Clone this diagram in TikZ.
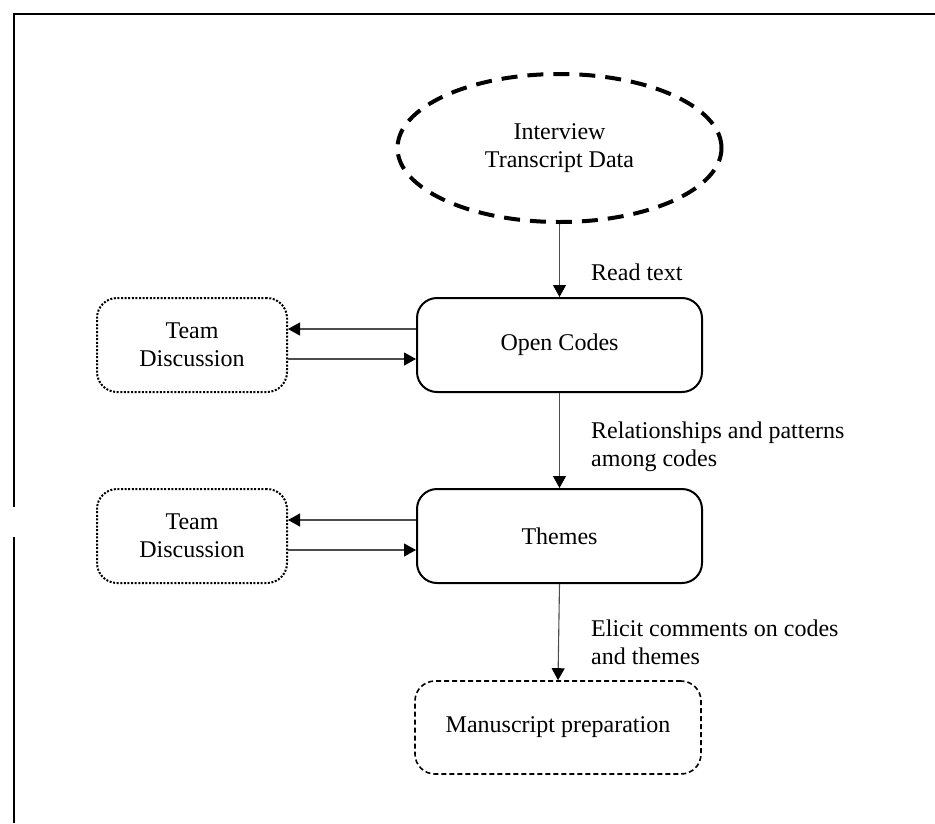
\documentclass[tikz,border=0pt]{standalone}
\usepackage{fontspec}
\setmainfont{Liberation Serif}
\usetikzlibrary{shapes.geometric,arrows.meta}
\begin{document}
\begin{tikzpicture}[x=1pt,y=-1pt,
  every node/.style={font=\fontsize{24}{27.6}\selectfont, align=center, inner sep=0pt},
  mainbox/.style={draw, line width=2pt, rounded corners=20pt, minimum width=285pt, minimum height=94pt},
  teambox/.style={draw, line width=2pt, dash pattern=on 2pt off 1.6pt, rounded corners=20pt, minimum width=190pt, minimum height=94pt},
  msbox/.style={draw, line width=1.6pt, dash pattern=on 5pt off 3pt, rounded corners=20pt, minimum width=286pt, minimum height=93pt},
  databubble/.style={draw, ellipse, line width=4pt, dash pattern=on 16pt off 10pt, minimum width=324pt, minimum height=148pt},
  arr/.style={line width=1.1pt, draw=black!70, -{Triangle[length=12pt,width=13pt,color=black,fill=black]}},
  lbl/.style={anchor=west, align=left}
]
\useasboundingbox (0,0) rectangle (935,823);
% frame
\draw[line width=2pt] (14,823) -- (14,537);
\draw[line width=2pt] (14,507) -- (14,14) -- (935,14);

\node[databubble] (data) at (559.5,148) {Interview\\Transcript Data};
\node[mainbox] (oc) at (559.5,345) {Open Codes};
\node[mainbox] (th) at (559.5,536) {Themes};
\node[msbox] (ms) at (558,727.5) {Manuscript preparation};
\node[teambox] (td1) at (192,345) {Team\\Discussion};
\node[teambox] (td2) at (192,536) {Team\\Discussion};

\draw[arr] (data.south) -- (oc.north);
\draw[arr] (oc.south) -- (th.north);
\draw[arr] (th.south) -- (ms.north);

\draw[arr] ([yshift=16pt]oc.west) -- ([yshift=16pt]td1.east);
\draw[arr] ([yshift=-14pt]td1.east) -- ([yshift=-14pt]oc.west);
\draw[arr] ([yshift=16pt]th.west) -- ([yshift=16pt]td2.east);
\draw[arr] ([yshift=-14pt]td2.east) -- ([yshift=-14pt]th.west);

\node[lbl] (l1) at (591,272) {Read text};
\node[lbl] (l2) at (591,447) {Relationships and patterns\\among codes};
\node[lbl] (l3) at (591,642) {Elicit comments on codes\\and themes};
\end{tikzpicture}
\end{document}
